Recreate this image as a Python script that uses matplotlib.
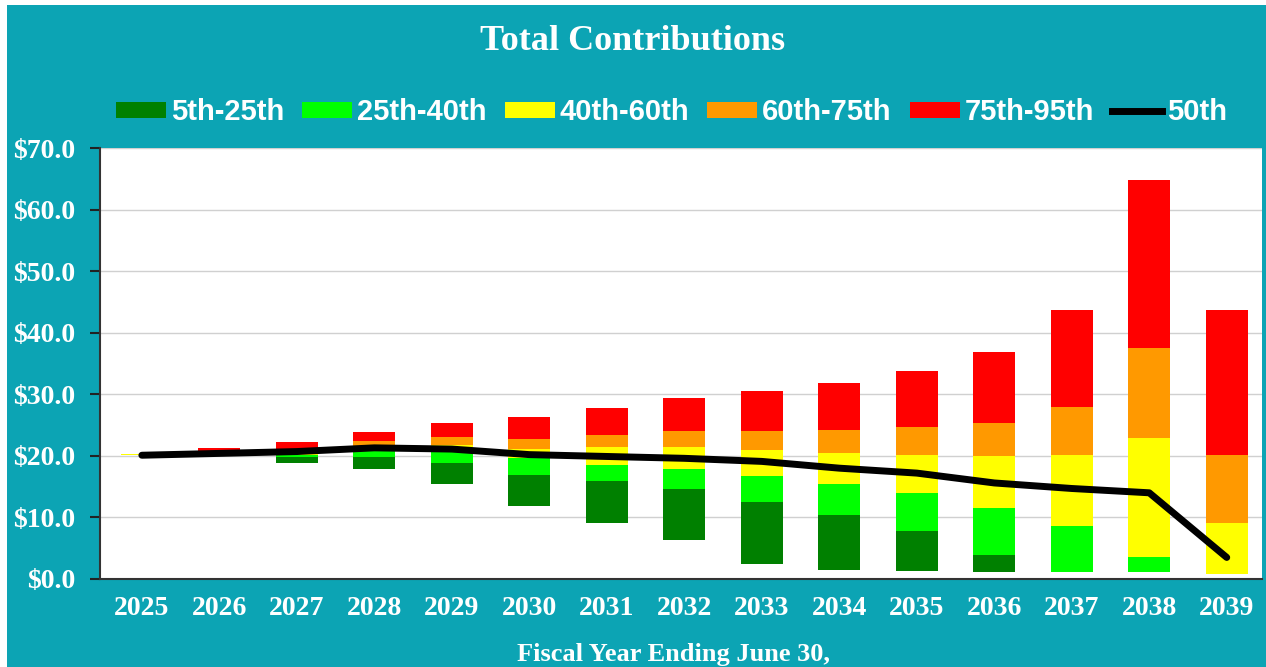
import matplotlib
matplotlib.use("Agg")
import matplotlib.pyplot as plt
import numpy as np
from matplotlib.patches import Patch
from matplotlib.lines import Line2D

years = ["2025", "2026", "2027", "2028", "2029", "2030", "2031", "2032",
         "2033", "2034", "2035", "2036", "2037", "2038", "2039"]
p5 =  [20.1, 20.0, 18.8, 17.9, 15.4, 11.9, 9.1, 6.3, 2.4, 1.5, 1.35, 1.1, 1.1, 1.1, 0.8]
p25 = [20.15, 20.1, 19.8, 19.8, 18.8, 16.9, 15.9, 14.6, 12.5, 10.4, 7.8, 3.9, 1.1, 1.1, 0.8]
p40 = [20.2, 20.2, 20.2, 21.0, 21.1, 19.7, 18.5, 17.8, 16.7, 15.4, 13.9, 11.5, 8.6, 3.6, 0.8]
p60 = [20.25, 20.4, 20.5, 21.5, 21.7, 21.1, 21.4, 21.4, 20.9, 20.4, 20.1, 19.9, 20.1, 22.9, 9.1]
p75 = [20.3, 20.6, 20.8, 22.4, 23.0, 22.7, 23.4, 24.0, 24.0, 24.2, 24.7, 25.3, 27.9, 37.5, 20.1]
p95 = [20.35, 21.2, 22.3, 23.9, 25.3, 26.3, 27.8, 29.4, 30.5, 31.8, 33.8, 36.9, 43.7, 64.8, 43.7]
p50 = [20.1, 20.4, 20.7, 21.3, 21.1, 20.2, 19.9, 19.6, 19.1, 18.0, 17.2, 15.6, 14.7, 14.0, 3.5]

labels = ["5th-25th", "25th-40th", "40th-60th", "60th-75th", "75th-95th"]
colors = ["#008000", "#00FF00", "#FFFF00", "#FF9900", "#FF0000"]
teal = "#0CA4B4"

fig = plt.figure(figsize=(12.66, 6.67), dpi=100)
fig.patch.set_facecolor("white")
bg = fig.add_axes([7/1266, 0, 1 - 7/1266, 1 - 5/667])
bg.set_facecolor(teal)
bg.set_xticks([]); bg.set_yticks([])
for s in bg.spines.values():
    s.set_visible(False)
bg.set_zorder(0)

ax = fig.add_axes([100/1266, 1 - 579/667, (1262 - 100)/1266, (579 - 148)/667])
ax.set_zorder(1)
ax.set_facecolor("white")

x = np.arange(len(years))
levels = [p5, p25, p40, p60, p75, p95]
for i in range(5):
    lo = np.array(levels[i]); hi = np.array(levels[i + 1])
    ax.bar(x, hi - lo, bottom=lo, width=0.54, color=colors[i], zorder=2)
ax.plot(x, p50, color="black", lw=5, solid_capstyle="round", solid_joinstyle="round", zorder=3)

ax.set_ylim(0, 70)
ax.set_xlim(-0.54, len(years) - 1 + 0.455)
ax.set_yticks(np.arange(0, 71, 10))
ax.set_yticklabels([f"${v:.1f}" for v in np.arange(0, 71, 10)],
                   family="Liberation Serif", fontweight="bold", fontsize=20, color="white")
ax.set_xticks(x)
ax.set_xticklabels(years, family="Liberation Serif", fontweight="bold", fontsize=20, color="white")
ax.tick_params(axis="y", length=7, width=1.5, color="#222222", pad=11)
ax.tick_params(axis="x", length=0, pad=12)
ax.grid(axis="y", color="#D0D0D0", lw=1, zorder=0)
ax.set_axisbelow(True)
for side in ["top", "right"]:
    ax.spines[side].set_visible(False)
for side in ["left", "bottom"]:
    ax.spines[side].set_color("#333333")
    ax.spines[side].set_linewidth(1.5)

fig.text(0.5, 1 - 42/667, "Total Contributions", ha="center", va="center",
         family="Liberation Serif", fontweight="bold", fontsize=26, color="white")
fig.text(0.532, 1 - 655/667, "Fiscal Year Ending June 30,", ha="center", va="center",
         family="Liberation Serif", fontweight="bold", fontsize=19, color="white")

handles = [Patch(facecolor=c, edgecolor="none") for c in colors]
handles.append(Line2D([0], [0], color="black", lw=5))
leg = fig.legend(handles, labels + ["50th"], loc="center", bbox_to_anchor=(0.5304, 1 - 112/667),
                 ncol=6, frameon=False, handlelength=1.71, handleheight=0.48,
                 handletextpad=0.17, columnspacing=0.62, borderpad=0, borderaxespad=0,
                 prop={"family": "Liberation Sans", "weight": "bold", "size": 21})
for t in leg.get_texts():
    t.set_color("white")

fig.savefig("out.png", dpi=100, facecolor=fig.get_facecolor())
